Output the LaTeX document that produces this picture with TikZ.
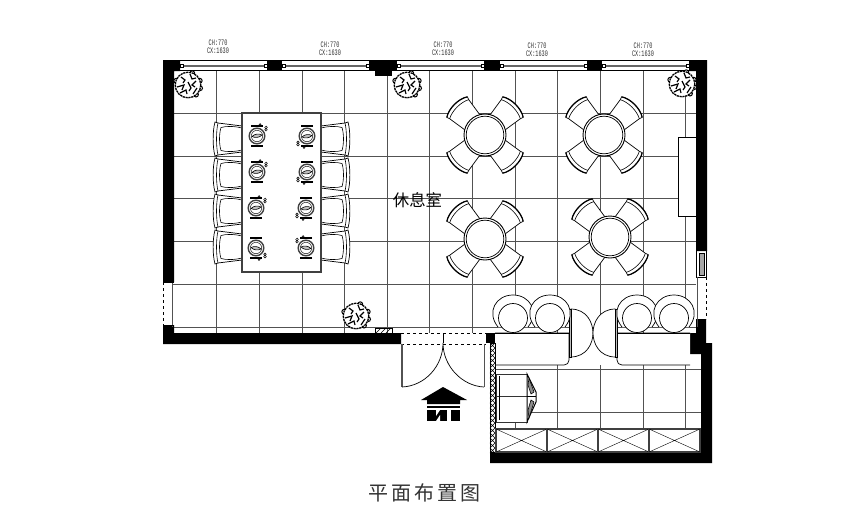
\documentclass[tikz,border=0pt]{standalone}
\usepackage{fontspec}
\newfontfamily\cjk{Noto Sans CJK SC}
\newfontfamily\cjkwide[LetterSpace=14]{Noto Sans CJK SC}
\newfontfamily\sizefont[FakeStretch=0.62]{Liberation Mono}
\tikzset{
	wallfill/.style={fill=black,draw=none},
	gridline/.style={line width=0.9pt,color=black!68},
	darkline/.style={line width=0.7pt,color=black},
	sizelabel/.style={font=\sizefont\fontsize{8.4}{8}\selectfont,align=center,inner sep=0pt,color=black!80},
}
% side chair of the long table, #3 = 1 for the right side, -1 for the left
\def\sidechair(#1,#2,#3){
	\begin{scope}[shift={(#1,#2)},xscale=#3,darkline]
		\draw[fill=white,line width=0.7pt] (0,-13) -- (24,-16) -- (27,-17) .. controls (29.5,-8) and (29.5,8) .. (27,17) -- (24,16) -- (0,13) -- cycle;
		\draw[line width=0.6pt] (24,-16) .. controls (26,-8) and (26,8) .. (24,16);
		\draw[line width=0.6pt] (0,-11) .. controls (8,-13) and (16,-13) .. (21,-11.5) .. controls (23,-5) and (23,5) .. (21,11.5) .. controls (16,13) and (8,13) .. (0,11);
	\end{scope}
}
% place setting on the long table
\def\plate(#1,#2,#3,#4){
	\begin{scope}[shift={(#1,#2)},xscale=#3,yscale=#4]
		\draw[line width=0.7pt] (-6,-10.8) -- (6,-10.8) (-6,-9.2) -- (6,-9.2) (-6,9.2) -- (6,9.2) (-6,10.8) -- (6,10.8);
		\draw[line width=1.4pt,color=black!75,fill=white] (0,0) circle (7.8);
		\draw[line width=0.4pt] (0,0) circle (5.7);
		\draw[line width=0.6pt,fill=black!25] (-5,0.5) .. controls (-2,-2.5) and (2,-2.5) .. (5,-1) .. controls (2,2) and (-2,2) .. (-5,0.5);
		\draw[line width=0.5pt] (9,-8.6) circle (1.3) (9,-6.2) circle (1.3) (3,-11.5) circle (0.9);
	\end{scope}
}
% plant in the corners of the room
\def\plant(#1,#2){
	\begin{scope}[shift={(#1,#2)}]
		\foreach \a in {-20,15,50,200,290}
			\draw[line width=1pt,fill=white] (\a:12.5) circle (2.4);
		\draw[draw=none,fill=white] (0,0) circle (12.8);
		\draw[line width=1.3pt,dash pattern=on 2.2pt off 0.7pt] (0,0) circle (12.8);
		\draw[line width=1.2pt] (-7,-8) -- (-3,-5) -- (-5,-2) (2,-11) -- (4,-6) -- (8,-7) (8,-4) -- (4,0) -- (7,2) (-11,2) -- (-4,0) -- (-6,5) (-8,8) -- (-2,5) -- (-1,9) (5,9) -- (9,3) (0,-3) -- (3,3) -- (1,6);
	\end{scope}
}
% round table with its four chairs
\def\roundtable(#1,#2){
	\begin{scope}[shift={(#1,#2)}]
		\foreach \a in {45,135,225,315}{
			\begin{scope}[rotate=\a]
				\draw[fill=white,line width=0.7pt] (17,-10.5) -- (36.5,-13.5) -- (39.5,-14.5) .. controls (44.5,-7) and (44.5,7) .. (39.5,14.5) -- (36.5,13.5) -- (17,10.5) -- cycle;
				\draw[line width=1.2pt] (39.5,-14.5) .. controls (44.5,-7) and (44.5,7) .. (39.5,14.5);
				\draw[line width=0.6pt] (36.5,-13.5) .. controls (40.5,-6) and (40.5,6) .. (36.5,13.5);
			\end{scope}
		}
		\draw[line width=0.9pt,fill=white] (0,0) circle (21);
		\draw[line width=0.7pt] (0,0) circle (18.8);
	\end{scope}
}
\begin{document}
\begin{tikzpicture}[x=1pt,y=-1pt]
		%%%%% START %%%%%
		\fill[white] (0,0) rectangle (860,525);
		\useasboundingbox (0,0) rectangle (860,525);
		
		% floor grid
		\foreach \x in {216,259,302,344,387,429.5,472,515,557,600,643}
			\draw[gridline] (\x,71) -- (\x,333);
		\foreach \y in {113,156,198,241,284,327}
			\draw[gridline] (172,\y) -- (696,\y);
		\draw[gridline] (685,89) -- (685,327);
		\foreach \x in {557,600,643,685}
			\draw[gridline] (\x,365) -- (\x,429);
		\draw[gridline] (515,412) -- (515,429);
		\draw[gridline] (495,369) -- (701,369);
		\draw[gridline] (527,412) -- (701,412);
		
		% walls
		\fill[wallfill] (163,60) -- (180,60) -- (180,71) -- (174,71) -- (174,282) -- (163,282) -- cycle;
		\fill[wallfill] (163,325) -- (174,325) -- (174,333) -- (401,333) -- (401,344) -- (163,344) -- cycle;
		\fill[wallfill] (689,60) -- (707,60) -- (707,251) -- (696,251) -- (696,71) -- (689,71) -- cycle;
		\fill[wallfill] (696,319) -- (706,319) -- (706,343) -- (712,343) -- (712,463) -- (490,463) -- (490,452) -- (701,452) -- (701,354) -- (690,354) -- (690,333) -- (696,333) -- cycle;
		\fill[wallfill] (486,333) rectangle (495,343);
		\fill[wallfill] (267,60) rectangle (282,71);
		\fill[wallfill] (369,60) rectangle (397,71);
		\fill[wallfill] (375,71) rectangle (392,76);
		\fill[wallfill] (484,60) rectangle (500,71);
		\fill[wallfill] (587,60) rectangle (602,71);
		
		% windows along the top
		\foreach \a/\b in {180/267,282/369,397/484,500/587,602/689}{
			\draw[darkline] (\a,60.5) -- (\b,60.5) (\a,70.5) -- (\b,70.5);
			\draw[line width=2pt,color=black!60] (\a+3,65.5) -- (\b-3,65.5);
			\draw[line width=0.5pt,fill=white] (\a,64) rectangle (\a+3,67);
			\draw[line width=0.5pt,fill=white] (\b-3,64) rectangle (\b,67);
		}
		\node[sizelabel] (sizea) at (218,47) {CH:770\\CX:1630};
		\node[sizelabel] (sizeb) at (330,48.5) {CH:770\\CX:1630};
		\node[sizelabel] (sizec) at (443,49) {CH:770\\CX:1630};
		\node[sizelabel] (sized) at (537,49.5) {CH:770\\CX:1630};
		\node[sizelabel] (sizee) at (643,50) {CH:770\\CX:1630};
		
		% side windows
		\draw[line width=0.7pt,dashed] (163.5,282) -- (163.5,325);
		\draw[gridline] (172,282) -- (172,327);
		\draw[darkline] (163,282) -- (174,282) (163,325) -- (174,325);
		\draw[darkline] (696.5,251) -- (696.5,277) (706.5,251) -- (706.5,277);
		\draw[line width=0.6pt,fill=black!35] (699,253) rectangle (704,275);
		\draw[darkline] (696,277) -- (707,277);
		\draw[gridline] (697,277) -- (697,327);
		\draw[line width=0.7pt,dashed] (706,277) -- (706,319);
		
		% counter on the right wall
		\draw[darkline,fill=white] (696,137) -- (678,137) -- (678,216) -- (696,216);
		
		% long table
		\foreach \y in {139,175,211,247}{
			\sidechair(242,\y,-1)
			\sidechair(321,\y,1)
		}
		\draw[line width=1.5pt,color=black!75,fill=white] (242,113) rectangle (321,272);
		\plate(257,136,1,1)
		\plate(307,136,-1,-1)
		\plate(257,172,1,1)
		\plate(307,172,-1,-1)
		\plate(256,208,1,1)
		\plate(306,208,-1,-1)
		\plate(256,248,1,-1)
		\plate(306,248,-1,1)
		
		% round tables
		\roundtable(485,135)
		\roundtable(604,135)
		\roundtable(485,239)
		\roundtable(610,237)
		
		\plant(188,85)
		\plant(407,85)
		\plant(682,84)
		\plant(356,316)
		
		\node[font=\cjk\fontsize{16.4}{18}\selectfont,inner sep=0pt] (hall) at (417.5,200) {休息室};
		
		% small hatched block
		\draw[line width=0.6pt] (375,333) -- (375,328) -- (392,328) -- (392,333);
		\foreach \x in {376,381,386}
			\draw[line width=0.6pt] (\x,333) -- (\x+5,328);
		
		% door
		\draw[line width=0.8pt,dashed] (401,333) -- (486,333) (401,344) -- (486,344);
		\draw[darkline] (443,333) -- (443,343);
		\draw[gridline,line width=1.4pt] (402,344) -- (402,387) (484.5,344) -- (484.5,387);
		\draw[darkline] (402,387) .. controls (425,386) and (443,366) .. (443,343) .. controls (443,366) and (462,386) .. (484,387);
		
		% entrance mark
		\fill[black] (443,387) -- (467,400) -- (460,400) -- (460,404) -- (427,404) -- (427,400) -- (421,400) -- cycle;
		\fill[black] (427,405.5) rectangle (460,408);
		\fill[black] (427,410) rectangle (447,421);
		\fill[white] (436,410) -- (440,410) -- (436,416) -- cycle;
		\fill[white] (440,421) -- (436,421) -- (440,415) -- cycle;
		\fill[black] (451,410) rectangle (460,421);
		
		% sofas and armchairs
		\draw[darkline,fill=white] (495,333) -- (569,333) -- (569,360) .. controls (569,363) and (567,365) .. (564,365) -- (496,365);
		\draw[darkline,fill=white] (690,365) -- (622,365) .. controls (619,365) and (617,363) .. (617,360) -- (617,333) -- (690,333);
		\draw[darkline] (495,333) -- (690,333);
		\draw[darkline,fill=white] (570.5,309) .. controls (587,309) and (593,323) .. (593,333) .. controls (593,343) and (587,357) .. (570.5,357);
		\draw[darkline,fill=white] (615.5,309) .. controls (599,309) and (593,323) .. (593,333) .. controls (593,343) and (599,357) .. (615.5,357);
		\draw[line width=0.7pt,fill=black!25] (569,309) rectangle (571,357);
		\draw[line width=0.7pt,fill=black!25] (615,309) rectangle (617,357);
		\foreach \x in {513,550,637,674}{
			\draw[darkline,fill=white] (\x-15,327) .. controls (\x-27,312) and (\x-17,295) .. (\x,295) .. controls (\x+17,295) and (\x+27,312) .. (\x+15,327);
			\draw[darkline,fill=white] (\x,318) circle (14.5);
		}
		
		% display case
		\draw[line width=1pt,color=black!80,fill=white] (496,374) rectangle (527,396);
		\draw[line width=1pt,color=black!80,fill=white] (496,396) rectangle (527,422);
		\draw[line width=0.6pt] (499,376) -- (499,420);
		\draw[line width=1pt,fill=white] (527,374) -- (536,392) -- (536,402) -- (527,422) -- cycle;
		\draw[line width=0.6pt,fill=black!45] (529,378) -- (534,392) -- (531,394) -- (528,385) -- cycle;
		\draw[line width=0.6pt,fill=black!45] (529,418) -- (534,402) -- (531,400) -- (528,410) -- cycle;
		\draw[line width=0.6pt] (527,396) -- (536,396);
		
		% hatched wall
		\draw[line width=0.5pt,fill=white] (490,343) rectangle (495,452);
		\foreach \y in {343,348,...,448}
			\draw[line width=0.5pt] (490,\y) -- (495,\y+5) (495,\y) -- (490,\y+5);
		
		% low cabinet
		\foreach \a/\b in {496/547,547/598,598/649,649/700}{
			\draw[line width=1.2pt,color=black!75,fill=white] (\a,429) rectangle (\b,452);
			\draw[line width=0.4pt] (\a,429) -- (\b,452) (\a,452) -- (\b,429);
		}
		
		\node[font=\cjkwide\fontsize{20}{22}\selectfont,inner sep=0pt,color=black!80] (title) at (424.5,493) {平面布置图};
		%%%%% END %%%%%
	\end{tikzpicture}
\end{document}
